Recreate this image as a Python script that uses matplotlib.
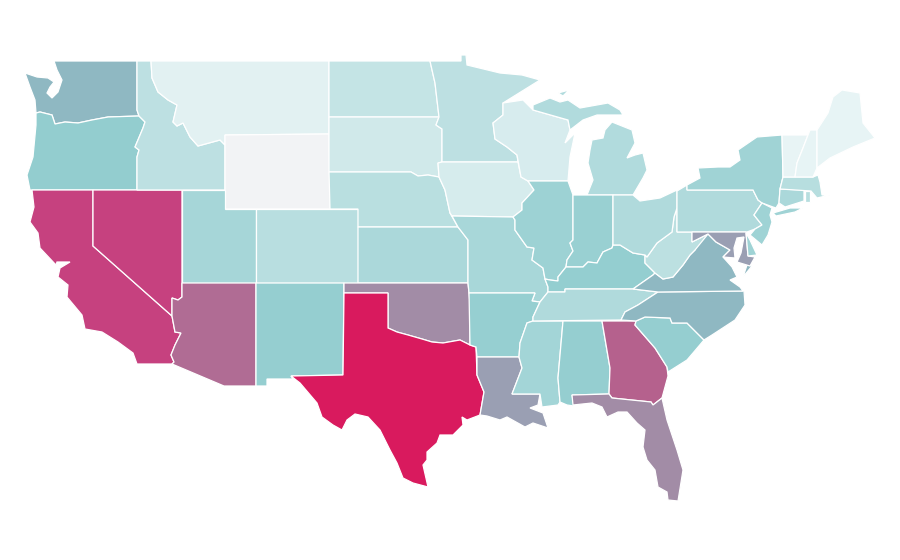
#!/usr/bin/env python3
"""
US state choropleth, outlines traced by hand from the picture
"""

import matplotlib
matplotlib.use('Agg')
import matplotlib.pyplot as plt
from matplotlib.colors import LinearSegmentedColormap
from matplotlib.patches import Polygon

# Shaded value per state, 0 (lowest) to 1 (highest)
values = {
    'WA': .36, 'OR': .30, 'CA': .85, 'NV': .85, 'ID': .162, 'MT': .04, 'WY': 0.0,
    'UT': .236, 'AZ': .65, 'CO': .178, 'NM': .29, 'ND': .138, 'SD': .10, 'NE': .175,
    'KS': .222, 'OK': .50, 'TX': 1.0, 'MN': .162, 'IA': .08, 'MO': .229, 'AR': .287,
    'LA': .44, 'WI': .077, 'IL': .263, 'MS': .243, 'MI': .20, 'IN': .28, 'KY': .296,
    'TN': .206, 'AL': .29, 'GA': .70, 'FL': .50, 'SC': .29, 'NC': .36, 'VA': .36,
    'WV': .165, 'OH': .206, 'PA': .206, 'NY': .256, 'MD': .44, 'DE': .26, 'NJ': .26,
    'CT': .22, 'RI': .18, 'MA': .18, 'VT': .02, 'NH': .027, 'ME': .027,
}

# State outlines (map units), some states have several parts
outlines = {
    'WA': [[(54, 61), (137, 61), (137, 110), (139, 116), (108, 117), (92, 120), (78, 123), (65, 122),
            (55, 124), (52, 115), (40, 112), (36, 113), (35, 100), (30, 87), (25, 73), (37, 77), (48, 78),
            (54, 82), (50, 87), (47, 93), (52, 98), (58, 92), (62, 80), (57, 70)]],
    'OR': [[(36, 113), (40, 112), (52, 115), (55, 124), (65, 122), (78, 123), (92, 120), (108, 117),
            (139, 116), (145, 122), (143, 128), (135, 147), (139, 150), (137, 157), (137, 190), (30, 190),
            (27, 175), (33, 157), (36, 125)]],
    'CA': [[(32, 190), (93, 190), (93, 246), (172, 316), (175, 332), (181, 333), (175, 345), (171, 355),
            (174, 362), (172, 364), (137, 364), (133, 353), (118, 342), (102, 332), (85, 329), (82, 315),
            (67, 297), (68, 285), (58, 277), (60, 268), (70, 262), (57, 262), (56, 265), (40, 248),
            (38, 233), (30, 222), (34, 207)]],
    'NV': [[(93, 190), (182, 190), (182, 297), (178, 300), (172, 298), (172, 316), (93, 246)]],
    'ID': [[(137, 61), (151, 61), (152, 78), (158, 92), (168, 100), (177, 105), (173, 122), (177, 126),
            (183, 123), (190, 137), (198, 146), (220, 140), (225, 145), (225, 190), (137, 190), (137, 157),
            (139, 150), (135, 147), (143, 128), (145, 122), (139, 116), (137, 110)]],
    'MT': [[(151, 61), (329, 61), (329, 134), (225, 135), (225, 145), (220, 140), (198, 146), (190, 137),
            (183, 123), (177, 126), (173, 122), (177, 105), (168, 100), (158, 92), (152, 78)]],
    'WY': [[(225, 135), (329, 134), (330, 209), (225, 209)]],
    'UT': [[(182, 190), (225, 190), (225, 209), (256, 209), (256, 283), (182, 283)]],
    'AZ': [[(182, 283), (256, 283), (256, 386), (224, 386), (172, 364), (174, 362), (171, 355), (175, 345),
            (181, 333), (175, 332), (172, 316), (172, 298), (178, 300), (182, 297)]],
    'CO': [[(256, 209), (358, 209), (358, 283), (256, 283)]],
    'NM': [[(256, 283), (344, 283), (343, 375), (291, 376), (293, 379), (267, 379), (267, 386), (256, 386)]],
    'ND': [[(329, 61), (430, 61), (435, 83), (437, 100), (439, 117), (329, 117)]],
    'SD': [[(329, 117), (439, 117), (436, 125), (442, 129), (442, 162), (438, 163), (439, 177), (428, 175),
            (418, 176), (411, 172), (329, 172)]],
    'NE': [[(329, 172), (411, 172), (418, 176), (428, 175), (439, 177), (445, 190), (450, 213), (458, 227),
            (358, 227), (358, 209), (330, 209)]],
    'KS': [[(358, 227), (458, 227), (462, 232), (468, 240), (468, 283), (358, 283)]],
    'OK': [[(344, 283), (468, 283), (470, 303), (470, 345), (460, 340), (443, 343), (432, 342), (422, 339),
            (408, 335), (397, 332), (388, 328), (388, 293), (344, 293)]],
    'TX': [[(344, 293), (388, 293), (388, 328), (397, 332), (408, 335), (422, 339), (432, 342), (443, 343),
            (460, 340), (470, 345), (476, 347), (477, 375), (484, 392), (480, 415), (467, 420), (462, 417),
            (463, 425), (453, 435), (440, 435), (437, 443), (427, 452), (427, 460), (423, 465), (428, 487),
            (413, 483), (403, 478), (397, 463), (390, 450), (380, 430), (368, 417), (355, 414), (347, 420),
            (342, 430), (333, 425), (322, 417), (317, 403), (300, 383), (291, 376), (343, 375)]],
    'MN': [[(430, 61), (461, 61), (461, 55), (466, 55), (467, 65), (500, 73), (522, 75), (540, 80), (503, 103),
            (503, 115), (493, 123), (495, 139), (507, 147), (517, 155), (518, 162), (442, 162), (442, 129),
            (436, 125), (439, 117), (437, 100), (435, 83)]],
    'IA': [[(442, 162), (518, 162), (521, 177), (528, 181), (534, 190), (522, 203), (522, 210), (513, 217),
            (452, 216), (450, 213), (445, 190), (439, 177), (438, 163)]],
    'MO': [[(452, 216), (513, 217), (515, 220), (515, 230), (527, 247), (534, 248), (532, 260), (543, 268),
            (545, 279), (548, 287), (548, 292), (540, 302), (532, 301), (535, 293), (469, 293), (468, 283),
            (468, 240), (458, 227)]],
    'AR': [[(469, 293), (535, 293), (532, 301), (540, 302), (533, 317), (533, 321), (527, 323), (520, 343),
            (519, 357), (477, 357), (476, 347), (470, 345)]],
    'LA': [[(477, 357), (519, 357), (522, 368), (512, 394), (540, 394), (538, 405), (530, 408), (543, 413),
            (548, 428), (533, 423), (525, 427), (507, 417), (500, 420), (487, 416), (480, 415), (484, 392),
            (477, 375)]],
    'WI': [[(503, 103), (523, 100), (533, 110), (568, 120), (570, 130), (565, 143), (575, 133), (570, 157),
            (568, 181), (528, 181), (521, 177), (517, 155), (507, 147), (495, 139), (493, 123), (503, 115)]],
    'IL': [[(528, 181), (568, 181), (573, 195), (573, 240), (570, 243), (573, 251), (567, 260), (566, 267),
            (558, 277), (558, 281), (550, 280), (545, 279), (543, 268), (532, 260), (534, 248), (527, 247),
            (515, 230), (515, 220), (513, 217), (522, 210), (522, 203), (534, 190)]],
    'MS': [[(533, 321), (563, 321), (558, 378), (560, 402), (558, 405), (542, 407), (540, 394), (512, 394),
            (522, 368), (519, 357), (520, 343), (527, 323)]],
    'MI': [[(587, 195), (633, 195), (643, 178), (647, 170), (643, 153), (635, 155), (627, 158), (635, 143),
            (632, 130), (612, 122), (605, 130), (603, 138), (592, 140), (590, 150), (588, 163), (593, 180)],
           [(533, 105), (550, 98), (560, 102), (568, 100), (580, 108), (608, 103), (620, 110), (623, 115),
            (597, 115), (583, 120), (570, 130), (568, 120), (533, 110)],
           [(558, 93), (569, 90), (563, 96)]],
    'IN': [[(573, 195), (613, 195), (613, 245), (612, 248), (603, 252), (597, 263), (588, 262), (583, 267),
            (566, 267), (567, 260), (573, 251), (570, 243), (573, 240)]],
    'KY': [[(548, 292), (565, 292), (565, 289), (633, 289), (653, 275), (655, 273), (645, 263), (645, 255),
            (633, 253), (620, 245), (613, 245), (612, 248), (603, 252), (597, 263), (588, 262), (583, 267),
            (566, 267), (558, 277), (558, 281), (550, 280), (545, 279), (548, 287)]],
    'TN': [[(533, 321), (533, 317), (540, 302), (548, 292), (565, 292), (565, 289), (633, 289), (658, 292),
            (638, 305), (625, 312), (621, 320)]],
    'AL': [[(563, 321), (602, 321), (610, 368), (609, 394), (572, 395), (574, 406), (567, 405), (560, 402),
            (558, 378)]],
    'GA': [[(602, 321), (636, 321), (635, 325), (655, 348), (667, 367), (668, 376), (662, 398), (653, 405),
            (651, 402), (612, 398), (609, 394), (610, 368)]],
    'FL': [[(572, 395), (609, 394), (612, 398), (651, 402), (653, 405), (662, 398), (667, 420), (677, 450),
            (683, 470), (678, 501), (668, 500), (667, 492), (658, 487), (655, 470), (647, 460), (643, 447),
            (645, 430), (637, 423), (627, 412), (618, 412), (607, 417), (602, 407), (592, 403), (573, 405)]],
    'SC': [[(636, 321), (645, 317), (670, 318), (672, 323), (687, 323), (704, 340), (693, 353), (687, 360),
            (668, 372), (667, 367), (655, 348), (635, 325)]],
    'NC': [[(621, 320), (625, 312), (638, 305), (658, 292), (744, 291), (745, 305), (735, 320), (712, 335),
            (704, 340), (687, 323), (672, 323), (670, 318), (645, 317), (636, 321)]],
    'VA': [[(633, 289), (653, 275), (655, 273), (663, 279), (673, 277), (683, 265), (690, 255), (695, 250),
            (700, 238), (708, 234), (716, 242), (730, 250), (723, 257), (732, 267), (737, 277), (730, 280),
            (740, 287), (743, 291), (658, 292)],
           [(747, 265), (752, 266), (743, 277)]],
    'WV': [[(677, 208), (677, 232), (692, 232), (692, 242), (700, 238), (708, 234), (695, 250), (690, 255),
            (683, 265), (673, 277), (663, 279), (655, 273), (645, 263), (645, 255), (647, 257), (657, 243),
            (672, 232), (674, 217)]],
    'OH': [[(613, 195), (633, 195), (640, 201), (660, 198), (677, 190), (677, 208), (674, 217), (672, 232),
            (657, 243), (647, 257), (645, 255), (633, 253), (620, 245), (613, 245)]],
    'PA': [[(677, 191), (687, 185), (687, 190), (753, 190), (758, 200), (762, 203), (754, 215), (762, 225),
            (755, 229), (747, 232), (677, 232)]],
    'NY': [[(687, 185), (700, 178), (698, 168), (718, 167), (730, 167), (740, 160), (738, 150), (757, 137),
            (782, 135), (783, 177), (780, 189), (779, 203), (776, 208), (773, 207), (762, 203), (758, 200),
            (753, 190), (687, 190)],
           [(773, 213), (790, 208), (803, 208), (795, 212), (776, 216)]],
    'MD': [[(692, 232), (746, 232), (748, 256), (755, 257), (750, 266), (737, 262), (741, 253), (744, 237),
            (737, 238), (734, 248), (735, 258), (723, 257), (730, 250), (716, 242), (708, 234), (700, 238),
            (692, 242)]],
    'DE': [[(746, 233), (750, 240), (757, 255), (748, 256)]],
    'NJ': [[(762, 203), (772, 208), (770, 215), (772, 222), (768, 235), (762, 245), (750, 235), (755, 229),
            (762, 225), (754, 215)]],
    'CT': [[(780, 189), (804, 190), (804, 201), (785, 207), (779, 203)]],
    'RI': [[(805, 191), (810, 191), (810, 202), (805, 202)]],
    'MA': [[(783, 177), (813, 177), (818, 175), (820, 182), (822, 195), (830, 195), (817, 198), (811, 191),
            (780, 189)]],
    'VT': [[(782, 135), (808, 135), (803, 148), (797, 163), (795, 177), (783, 177)]],
    'NH': [[(810, 130), (817, 130), (817, 168), (813, 177), (795, 177), (797, 163), (803, 148), (808, 135)]],
    'ME': [[(817, 130), (828, 113), (833, 97), (842, 90), (860, 93), (863, 123), (875, 138), (853, 147),
            (830, 158), (817, 168)]],
}

# Light grey for the lowest state, through teal, to crimson
cmap = LinearSegmentedColormap.from_list('states', [
    (0.0, '#f2f3f5'), (0.02, '#e8f4f5'), (0.30, '#92cdcf'), (0.36, '#8fb8c2'),
    (0.44, '#9a9fb3'), (0.50, '#a28ca6'), (0.65, '#b06c94'), (0.70, '#b5618d'),
    (0.85, '#c6417f'), (1.0, '#d91a5e'),
])


def main():
    fig = plt.figure(figsize=(9, 5.6), dpi=100)
    ax = fig.add_axes([0, 0, 1, 1])

    for state, parts in outlines.items():
        for part in parts:
            ax.add_patch(Polygon(part, closed=True, facecolor=cmap(values[state]),
                                 edgecolor='white', linewidth=0.9))

    ax.set_xlim(0, 900)
    ax.set_ylim(560, 0)
    ax.axis('off')

    plt.savefig('out.png', dpi=100)
    plt.close()


if __name__ == '__main__':
    main()
